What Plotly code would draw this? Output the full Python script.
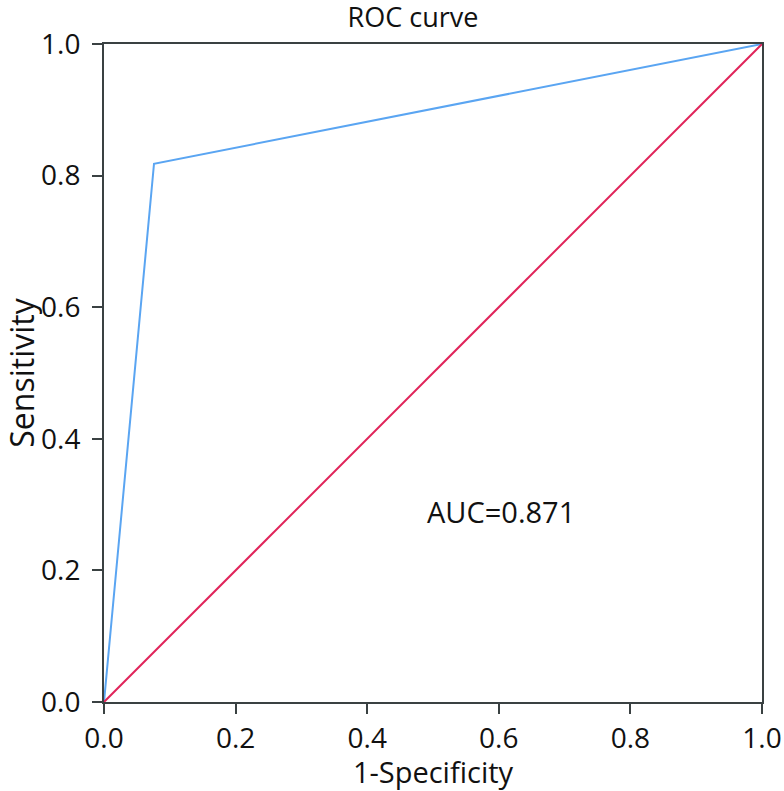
import plotly.graph_objects as go

fpr = [0.0, 0.076, 1.0]
tpr = [0.0, 0.818, 1.0]
ref_x = [0.0, 1.0]
ref_y = [0.0, 1.0]
tick_vals = [0.0, 0.2, 0.4, 0.6, 0.8, 1.0]
tick_text = ["0.0", "0.2", "0.4", "0.6", "0.8", "1.0"]
auc_label = "AUC=0.871"

FONT = "Open Sans, Noto Sans, sans-serif"

fig = go.Figure()
fig.add_trace(go.Scatter(x=fpr, y=tpr, mode="lines",
                         line=dict(color="#5aa5f2", width=2), showlegend=False))
fig.add_trace(go.Scatter(x=ref_x, y=ref_y, mode="lines",
                         line=dict(color="#e0245a", width=2), showlegend=False))

axis_common = dict(
    range=[0, 1], tickvals=tick_vals, ticktext=tick_text, automargin=False,
    showgrid=False, zeroline=False, showline=True, linecolor="#3a4142",
    linewidth=2, mirror=True, ticks="outside", ticklen=10, tickwidth=2,
    tickcolor="#3a4142", tickfont=dict(family=FONT, size=28, color="#111"),
)

fig.update_layout(
    width=784, height=791,
    margin=dict(l=104, r=22, t=44, b=89, autoexpand=False),
    plot_bgcolor="white", paper_bgcolor="white",
    title=dict(text="ROC curve", x=413 / 784, xanchor="center",
               y=1 - 18 / 791, yanchor="middle",
               font=dict(family=FONT, size=27, color="#111")),
    xaxis=dict(**axis_common,
               title=dict(text="1-Specificity", standoff=4,
                          font=dict(family=FONT, size=29, color="#111"))),
    yaxis=dict(**axis_common, ticklabelstandoff=6,
               title=dict(text="Sensitivity", standoff=1,
                          font=dict(family=FONT, size=32, color="#111"))),
    annotations=[dict(x=0.603, y=0.290, xref="x", yref="y", text=auc_label,
                      showarrow=False, font=dict(family=FONT, size=29, color="#111"))],
)

fig.write_html("out.html", config={"displayModeBar": False},
               post_script="document.body.style.margin='0';document.body.style.overflow='hidden';")
